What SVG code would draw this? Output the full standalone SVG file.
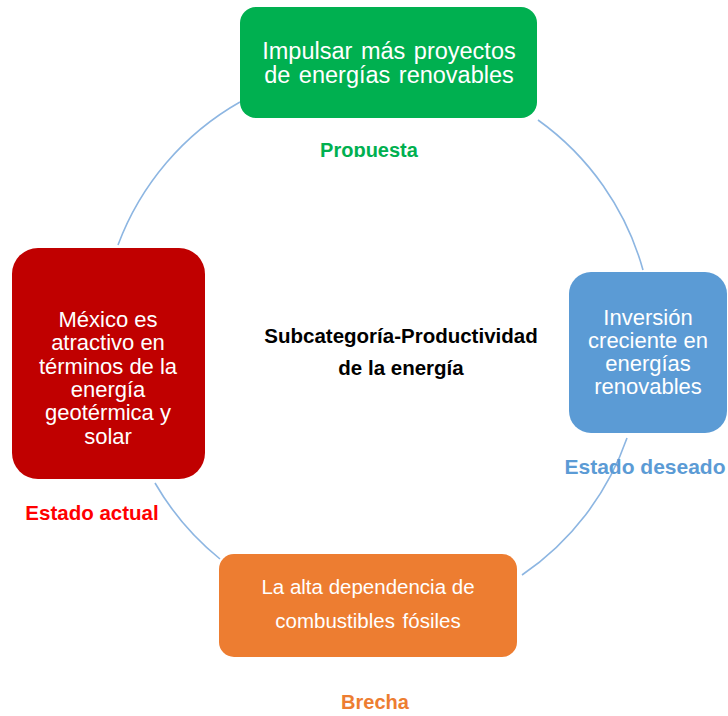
<svg xmlns="http://www.w3.org/2000/svg" width="728" height="716" viewBox="0 0 728 716">
<defs>
<style>
.arc{fill:none;stroke:#8DB6E2;stroke-width:1.6}
.nt{font-family:"Liberation Sans",Arial,sans-serif;fill:#FFFFFF;text-anchor:middle}
.lb{font-family:"Liberation Sans",Arial,sans-serif;font-weight:bold;text-anchor:middle}
</style>
<clipPath id="clipP"><rect x="300" y="130" width="140" height="27"/></clipPath>
</defs>
<rect width="728" height="716" fill="#FFFFFF"/>
<g id="connectors">
<path class="arc" d="M118,245 A275,275 0 0 1 240,102"/>
<path class="arc" d="M538,120 A275,275 0 0 1 643,270"/>
<path class="arc" d="M627,438 A275,275 0 0 1 522,575"/>
<path class="arc" d="M220,559 A275,275 0 0 1 155,483"/>
</g>
<g id="node-propuesta">
<rect x="240" y="7" width="297" height="111" rx="16" fill="#00B050"/>
<text class="nt" x="389" y="59" font-size="23.5" word-spacing="2">Impulsar más proyectos</text>
<text class="nt" x="389" y="83" font-size="23.5" word-spacing="2">de energías renovables</text>
</g>
<g id="node-actual">
<rect x="12" y="248" width="193" height="231" rx="26" fill="#C00000"/>
<text class="nt" x="108" y="327" font-size="22">México es</text>
<text class="nt" x="108" y="350" font-size="22">atractivo en</text>
<text class="nt" x="108" y="374" font-size="22">términos de la</text>
<text class="nt" x="108" y="397" font-size="22">energía</text>
<text class="nt" x="108" y="420" font-size="22">geotérmica y</text>
<text class="nt" x="108" y="444" font-size="22">solar</text>
</g>
<g id="node-deseado">
<rect x="569" y="272" width="158" height="161" rx="22" fill="#5B9BD5"/>
<text class="nt" x="648" y="325" font-size="22">Inversión</text>
<text class="nt" x="648" y="348" font-size="22">creciente en</text>
<text class="nt" x="648" y="371" font-size="22">energías</text>
<text class="nt" x="648" y="394" font-size="22">renovables</text>
</g>
<g id="node-brecha">
<rect x="219" y="554" width="298" height="103" rx="15" fill="#ED7D31"/>
<text class="nt" x="368" y="594" font-size="20.5">La alta dependencia de</text>
<text class="nt" x="368" y="628" font-size="20.5" word-spacing="2">combustibles fósiles</text>
</g>
<g id="labels">
<text class="lb" x="369" y="157" font-size="20" fill="#00B050" clip-path="url(#clipP)">Propuesta</text>
<text class="lb" x="92" y="520" font-size="20.5" fill="#FF0000">Estado actual</text>
<text class="lb" x="645" y="474" font-size="21" fill="#5B9BD5">Estado deseado</text>
<text class="lb" x="375" y="709" font-size="20" fill="#ED7D31">Brecha</text>
<text class="lb" x="401" y="343" font-size="20.5" fill="#000000">Subcategoría-Productividad</text>
<text class="lb" x="401" y="375" font-size="20.5" fill="#000000">de la energía</text>
</g>
</svg>
